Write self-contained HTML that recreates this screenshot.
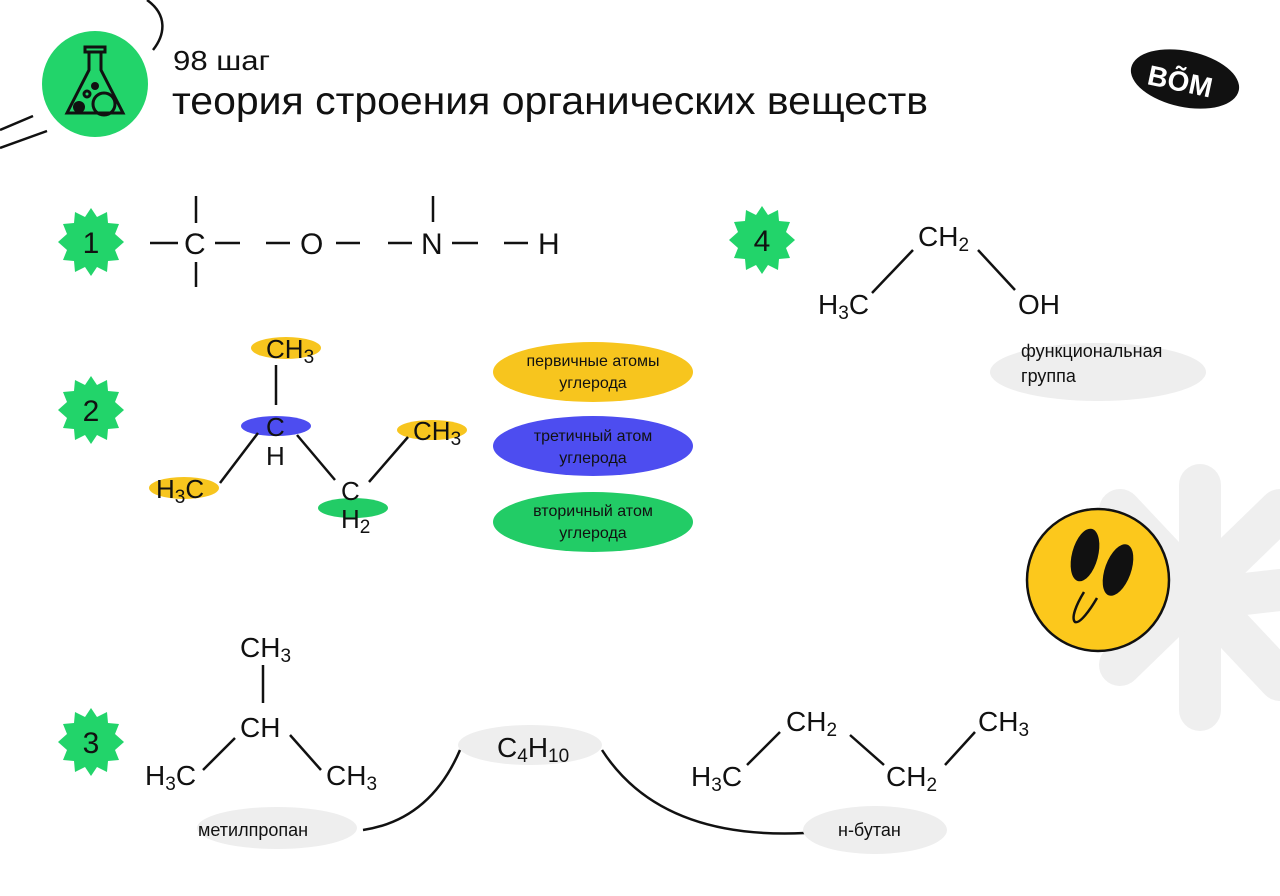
<!DOCTYPE html>
<html><head><meta charset="utf-8"><style>
html,body{margin:0;padding:0;background:#fff}
svg{display:block}
text{font-family:"Liberation Sans","DejaVu Sans",sans-serif;fill:#111}
</style></head><body>
<svg width="1280" height="896" viewBox="0 0 1280 896" xmlns="http://www.w3.org/2000/svg">
<defs>
<polygon id="star" points="0,-34 6,-25 16,-30 17,-19 28,-18 24,-8 33,0 24,8 28,18 17,19 16,30 6,25 0,34 -6,25 -16,30 -17,19 -28,18 -24,8 -33,0 -24,-8 -28,-18 -17,-19 -16,-30 -6,-25" fill="#22d46a"/>
</defs>
<g stroke="#efefef" stroke-width="42" stroke-linecap="round">
<line x1="1200" y1="485" x2="1200" y2="710"/>
<line x1="1120" y1="510" x2="1280" y2="680"/>
<line x1="1120" y1="665" x2="1280" y2="510"/>
<line x1="1210" y1="598" x2="1280" y2="590"/>
</g>
<path d="M147,0 C168,15 165,35 153,50" fill="none" stroke="#111" stroke-width="2.5"/>
<line x1="0" y1="130" x2="33" y2="116" stroke="#111" stroke-width="2.5"/>
<line x1="0" y1="148" x2="47" y2="131" stroke="#111" stroke-width="2.5"/>
<circle cx="95" cy="84" r="53" fill="#22d46a"/>
<g fill="none" stroke="#111" stroke-width="3">
<rect x="85" y="47" width="20" height="5"/>
<path d="M89,52 V70 L67,113 H123 L101,70 V52"/>
<circle cx="104" cy="104" r="11"/>
<circle cx="87" cy="94" r="3"/>
</g>
<circle cx="79" cy="107" r="6" fill="#111"/>
<circle cx="95" cy="86" r="4" fill="#111"/>
<text x="173" y="70" font-size="28" textLength="97" lengthAdjust="spacingAndGlyphs">98 шаг</text>
<text x="172" y="114" font-size="39" textLength="756" lengthAdjust="spacingAndGlyphs">теория строения органических веществ</text>
<ellipse cx="1185" cy="79" rx="55" ry="28" transform="rotate(12 1185 79)" fill="#111"/>
<text x="1148" y="92" font-size="28" font-weight="bold" style="fill:#fff" transform="rotate(12 1185 79)">ВÕМ</text>
<use href="#star" x="91" y="242"/><text x="91" y="253" font-size="30" text-anchor="middle">1</text>
<use href="#star" x="91" y="410"/><text x="91" y="421" font-size="30" text-anchor="middle">2</text>
<use href="#star" x="91" y="742"/><text x="91" y="753" font-size="30" text-anchor="middle">3</text>
<use href="#star" x="762" y="240"/><text x="762" y="251" font-size="30" text-anchor="middle">4</text>
<g stroke="#111" stroke-width="2.5">
<line x1="150" y1="243" x2="178" y2="243"/><line x1="215" y1="243" x2="240" y2="243"/>
<line x1="196" y1="196" x2="196" y2="223"/><line x1="196" y1="262" x2="196" y2="287"/>
<line x1="266" y1="243" x2="290" y2="243"/><line x1="336" y1="243" x2="360" y2="243"/>
<line x1="388" y1="243" x2="412" y2="243"/><line x1="452" y1="243" x2="478" y2="243"/>
<line x1="433" y1="196" x2="433" y2="222"/>
<line x1="504" y1="243" x2="528" y2="243"/>
</g>
<g font-size="30"><text x="184" y="254">C</text><text x="300" y="254">O</text><text x="421" y="254">N</text><text x="538" y="254">H</text></g>
<ellipse cx="286" cy="348" rx="35" ry="11" fill="#f7c51e"/>
<ellipse cx="276" cy="426" rx="35" ry="10" fill="#4d4df0"/>
<ellipse cx="184" cy="488" rx="35" ry="11" fill="#f7c51e"/>
<ellipse cx="353" cy="508" rx="35" ry="10" fill="#22cc66"/>
<ellipse cx="432" cy="430" rx="35" ry="10" fill="#f7c51e"/>
<g stroke="#111" stroke-width="2.5">
<line x1="276" y1="365" x2="276" y2="405"/>
<line x1="258" y1="433" x2="220" y2="483"/>
<line x1="297" y1="435" x2="335" y2="480"/>
<line x1="369" y1="482" x2="408" y2="437"/>
</g>
<g font-size="26">
<text x="266" y="358">CH<tspan font-size="19" dy="5">3</tspan></text>
<text x="266" y="436">C</text><text x="266" y="465">H</text>
<text x="156" y="498">H<tspan font-size="19" dy="5">3</tspan><tspan dy="-5">C</tspan></text>
<text x="341" y="500">C</text><text x="341" y="528">H<tspan font-size="19" dy="5">2</tspan></text>
<text x="413" y="440">CH<tspan font-size="19" dy="5">3</tspan></text>
</g>
<ellipse cx="593" cy="372" rx="100" ry="30" fill="#f7c51e"/>
<ellipse cx="593" cy="446" rx="100" ry="30" fill="#4d4df0"/>
<ellipse cx="593" cy="522" rx="100" ry="30" fill="#22cc66"/>
<g font-size="16" text-anchor="middle">
<text x="593" y="366">первичные атомы</text><text x="593" y="388">углерода</text>
<text x="593" y="441">третичный атом</text><text x="593" y="463">углерода</text>
<text x="593" y="516">вторичный атом</text><text x="593" y="538">углерода</text>
</g>
<g stroke="#111" stroke-width="2.5">
<line x1="872" y1="293" x2="913" y2="250"/><line x1="978" y1="250" x2="1015" y2="290"/>
</g>
<g font-size="28">
<text x="918" y="246">CH<tspan font-size="19" dy="5">2</tspan></text>
<text x="818" y="314">H<tspan font-size="19" dy="5">3</tspan><tspan dy="-5">C</tspan></text>
<text x="1018" y="314">OH</text>
</g>
<ellipse cx="1098" cy="372" rx="108" ry="29" fill="#eeeeee"/>
<text x="1021" y="357" font-size="18">функциональная</text>
<text x="1021" y="382" font-size="18">группа</text>
<circle cx="1098" cy="580" r="71" fill="#fcc81c" stroke="#111" stroke-width="2.5"/>
<ellipse cx="1085" cy="555" rx="13" ry="27" transform="rotate(15 1085 555)" fill="#111"/>
<ellipse cx="1118" cy="570" rx="13" ry="27" transform="rotate(20 1118 570)" fill="#111"/>
<path d="M1084,592 C1076,605 1071,618 1075,622 C1080,624 1090,610 1097,598" fill="none" stroke="#111" stroke-width="2.5"/>
<g stroke="#111" stroke-width="2.5" fill="none">
<line x1="263" y1="665" x2="263" y2="703"/>
<line x1="235" y1="738" x2="203" y2="770"/>
<line x1="290" y1="735" x2="321" y2="770"/>
<line x1="747" y1="765" x2="780" y2="732"/>
<line x1="850" y1="735" x2="884" y2="765"/>
<line x1="945" y1="765" x2="975" y2="732"/>
<path d="M460,750 Q430,820 363,830"/>
<path d="M602,750 Q660,840 805,833"/>
</g>
<ellipse cx="530" cy="745" rx="72" ry="20" fill="#eeeeee"/>
<ellipse cx="277" cy="828" rx="80" ry="21" fill="#eeeeee"/>
<ellipse cx="875" cy="830" rx="72" ry="24" fill="#eeeeee"/>
<g font-size="28">
<text x="240" y="657">CH<tspan font-size="19" dy="5">3</tspan></text>
<text x="240" y="737">CH</text>
<text x="145" y="785">H<tspan font-size="19" dy="5">3</tspan><tspan dy="-5">C</tspan></text>
<text x="326" y="785">CH<tspan font-size="19" dy="5">3</tspan></text>
<text x="497" y="757">C<tspan font-size="19" dy="5">4</tspan><tspan dy="-5">H</tspan><tspan font-size="19" dy="5">10</tspan></text>
<text x="691" y="786">H<tspan font-size="19" dy="5">3</tspan><tspan dy="-5">C</tspan></text>
<text x="786" y="731">CH<tspan font-size="19" dy="5">2</tspan></text>
<text x="886" y="786">CH<tspan font-size="19" dy="5">2</tspan></text>
<text x="978" y="731">CH<tspan font-size="19" dy="5">3</tspan></text>
</g>
<text x="198" y="836" font-size="18">метилпропан</text>
<text x="838" y="836" font-size="18">н-бутан</text>
</svg>
</body></html>
